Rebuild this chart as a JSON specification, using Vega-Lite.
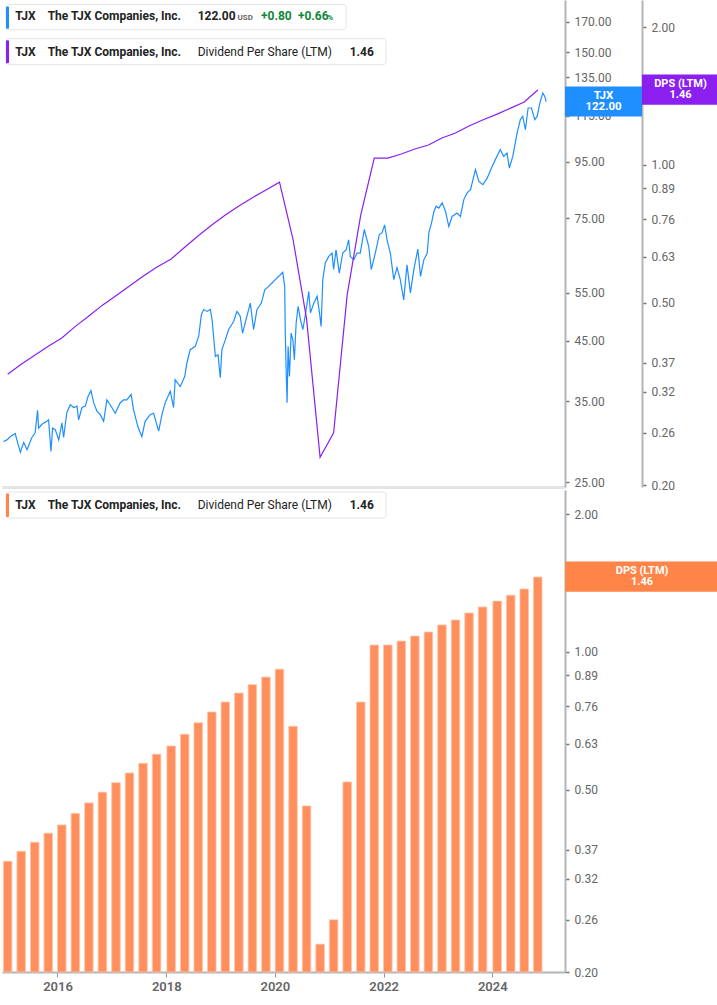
{
  "$schema": "https://vega.github.io/schema/vega-lite/v6.json",
  "padding": 0,
  "background": "#ffffff",
  "spacing": 3,
  "bounds": "flush",
  "config": {"view": {"stroke": null}, "font": "Roboto", "axis": {"labelFont": "Roboto", "zindex": 0}},
  "datasets": {
    "price": [
      {"date":"2015-01-02","close":29.6},{"date":"2015-01-26","close":29.8},{"date":"2015-02-17","close":30.2},{"date":"2015-03-23","close":30.6},{"date":"2015-04-03","close":29.8},{"date":"2015-04-26","close":28.3},{"date":"2015-05-19","close":29.5},{"date":"2015-06-10","close":28.6},{"date":"2015-07-13","close":30.1},{"date":"2015-08-04","close":30.7},{"date":"2015-08-20","close":33.7},{"date":"2015-08-27","close":31.3},{"date":"2015-09-18","close":31.8},{"date":"2015-10-22","close":32.2},{"date":"2015-11-02","close":32.4},{"date":"2015-11-18","close":28.4},{"date":"2015-11-29","close":31.3},{"date":"2015-12-17","close":31.1},
      {"date":"2016-01-09","close":29.8},{"date":"2016-01-31","close":32.0},{"date":"2016-02-11","close":30.1},{"date":"2016-03-04","close":33.4},{"date":"2016-03-27","close":34.5},{"date":"2016-04-19","close":34.1},{"date":"2016-05-11","close":34.3},{"date":"2016-05-22","close":32.4},{"date":"2016-06-13","close":34.1},{"date":"2016-07-06","close":34.3},{"date":"2016-07-24","close":35.7},{"date":"2016-08-13","close":36.6},{"date":"2016-08-31","close":34.8},{"date":"2016-09-22","close":33.6},{"date":"2016-10-14","close":33.1},{"date":"2016-11-06","close":32.2},{"date":"2016-11-28","close":35.2},{"date":"2016-12-20","close":34.5},
      {"date":"2017-01-23","close":33.3},{"date":"2017-02-26","close":34.8},{"date":"2017-03-20","close":35.2},{"date":"2017-04-11","close":35.2},{"date":"2017-05-10","close":36.0},{"date":"2017-05-26","close":33.8},{"date":"2017-06-24","close":31.5},{"date":"2017-07-21","close":30.2},{"date":"2017-08-12","close":32.2},{"date":"2017-09-15","close":33.1},{"date":"2017-10-08","close":33.3},{"date":"2017-11-11","close":30.9},{"date":"2017-12-03","close":33.1},{"date":"2017-12-25","close":34.8},
      {"date":"2018-01-28","close":36.5},{"date":"2018-02-19","close":34.1},{"date":"2018-03-02","close":38.3},{"date":"2018-04-05","close":37.2},{"date":"2018-05-05","close":38.8},{"date":"2018-05-20","close":41.1},{"date":"2018-06-11","close":43.4},{"date":"2018-07-15","close":44.0},{"date":"2018-08-07","close":45.9},{"date":"2018-08-25","close":50.2},{"date":"2018-09-10","close":51.3},{"date":"2018-10-02","close":50.9},{"date":"2018-10-24","close":51.3},{"date":"2018-11-05","close":49.2},{"date":"2018-11-27","close":42.2},{"date":"2018-12-15","close":42.5},{"date":"2018-12-30","close":38.6},
      {"date":"2019-01-10","close":43.4},{"date":"2019-02-02","close":45.2},{"date":"2019-02-24","close":47.2},{"date":"2019-03-30","close":48.8},{"date":"2019-04-21","close":50.9},{"date":"2019-05-13","close":49.9},{"date":"2019-05-29","close":46.5},{"date":"2019-06-21","close":49.2},{"date":"2019-07-20","close":52.7},{"date":"2019-08-11","close":47.2},{"date":"2019-09-03","close":51.3},{"date":"2019-10-02","close":52.7},{"date":"2019-10-25","close":55.7},{"date":"2019-11-20","close":56.5},{"date":"2019-12-13","close":57.3},
      {"date":"2020-01-04","close":58.1},{"date":"2020-02-07","close":59.3},{"date":"2020-02-23","close":59.9},{"date":"2020-03-07","close":56.5},{"date":"2020-03-11","close":46.5},{"date":"2020-03-18","close":38.8},{"date":"2020-03-23","close":34.8},{"date":"2020-03-30","close":44.0},{"date":"2020-04-08","close":38.8},{"date":"2020-04-19","close":46.5},{"date":"2020-05-01","close":45.2},{"date":"2020-05-11","close":41.6},{"date":"2020-05-23","close":48.5},{"date":"2020-06-05","close":52.0},{"date":"2020-06-21","close":49.2},{"date":"2020-07-07","close":47.2},{"date":"2020-07-24","close":50.2},{"date":"2020-08-16","close":55.3},{"date":"2020-08-27","close":50.6},{"date":"2020-09-19","close":52.7},{"date":"2020-10-11","close":54.2},{"date":"2020-10-27","close":50.6},{"date":"2020-11-07","close":47.8},{"date":"2020-11-18","close":58.1},{"date":"2020-12-05","close":62.3},{"date":"2020-12-28","close":64.0},
      {"date":"2021-01-19","close":64.9},{"date":"2021-01-30","close":60.6},{"date":"2021-02-15","close":65.8},{"date":"2021-03-09","close":59.7},{"date":"2021-04-01","close":64.9},{"date":"2021-04-24","close":65.8},{"date":"2021-05-11","close":68.6},{"date":"2021-05-22","close":64.0},{"date":"2021-06-14","close":63.1},{"date":"2021-07-06","close":64.9},{"date":"2021-07-28","close":64.9},{"date":"2021-08-24","close":71.6},{"date":"2021-09-23","close":66.7},{"date":"2021-10-10","close":60.6},{"date":"2021-11-06","close":64.9},{"date":"2021-12-03","close":70.1},{"date":"2021-12-21","close":70.6},
      {"date":"2022-01-08","close":73.0},{"date":"2022-01-24","close":68.6},{"date":"2022-02-15","close":64.9},{"date":"2022-03-10","close":58.1},{"date":"2022-04-01","close":61.1},{"date":"2022-04-23","close":58.1},{"date":"2022-05-16","close":53.4},{"date":"2022-06-07","close":61.8},{"date":"2022-06-30","close":55.0},{"date":"2022-07-23","close":60.6},{"date":"2022-08-19","close":66.0},{"date":"2022-09-06","close":58.9},{"date":"2022-09-28","close":63.1},{"date":"2022-10-21","close":64.9},{"date":"2022-11-01","close":70.6},{"date":"2022-11-19","close":73.6},{"date":"2022-12-05","close":77.2},{"date":"2022-12-20","close":78.9},
      {"date":"2023-01-07","close":78.3},{"date":"2023-01-29","close":80.0},{"date":"2023-02-21","close":77.2},{"date":"2023-03-15","close":72.5},{"date":"2023-04-06","close":75.6},{"date":"2023-05-10","close":76.7},{"date":"2023-06-01","close":75.6},{"date":"2023-06-24","close":81.1},{"date":"2023-07-16","close":83.4},{"date":"2023-08-08","close":84.5},{"date":"2023-09-10","close":91.9},{"date":"2023-10-03","close":87.5},{"date":"2023-10-30","close":86.3},{"date":"2023-11-28","close":88.7},{"date":"2023-12-31","close":93.1},
      {"date":"2024-01-22","close":95.8},{"date":"2024-02-24","close":99.9},{"date":"2024-03-18","close":97.1},{"date":"2024-04-09","close":98.5},{"date":"2024-04-25","close":92.5},{"date":"2024-05-18","close":97.1},{"date":"2024-06-16","close":107.0},{"date":"2024-07-08","close":113.2},{"date":"2024-07-24","close":114.7},{"date":"2024-08-11","close":108.5},{"date":"2024-08-29","close":118.8},{"date":"2024-09-21","close":118.8},{"date":"2024-10-13","close":113.2},{"date":"2024-10-29","close":114.7},{"date":"2024-11-16","close":121.3},{"date":"2024-12-06","close":126.5},{"date":"2024-12-19","close":124.7},{"date":"2024-12-28","close":122.0}
    ],
    "dps": [
      {"date":"2015-01-31","dps":0.349},{"date":"2015-05-02","dps":0.367},{"date":"2015-08-01","dps":0.384},{"date":"2015-10-31","dps":0.402},
      {"date":"2016-01-30","dps":0.419},{"date":"2016-04-30","dps":0.444},{"date":"2016-07-30","dps":0.468},{"date":"2016-10-29","dps":0.494},
      {"date":"2017-01-28","dps":0.518},{"date":"2017-04-29","dps":0.544},{"date":"2017-07-29","dps":0.571},{"date":"2017-10-28","dps":0.598},
      {"date":"2018-02-03","dps":0.623},{"date":"2018-05-05","dps":0.661},{"date":"2018-08-04","dps":0.700},{"date":"2018-11-03","dps":0.739},
      {"date":"2019-02-02","dps":0.777},{"date":"2019-05-04","dps":0.813},{"date":"2019-08-03","dps":0.848},{"date":"2019-11-02","dps":0.881},
      {"date":"2020-02-01","dps":0.917},{"date":"2020-05-02","dps":0.688},{"date":"2020-08-01","dps":0.461},{"date":"2020-10-31","dps":0.230},
      {"date":"2021-01-30","dps":0.260},{"date":"2021-05-01","dps":0.520},{"date":"2021-07-31","dps":0.777},{"date":"2021-10-30","dps":1.035},
      {"date":"2022-01-29","dps":1.035},{"date":"2022-04-30","dps":1.056},{"date":"2022-07-30","dps":1.083},{"date":"2022-10-29","dps":1.105},
      {"date":"2023-01-28","dps":1.145},{"date":"2023-04-29","dps":1.174},{"date":"2023-07-29","dps":1.216},{"date":"2023-10-28","dps":1.253},
      {"date":"2024-02-03","dps":1.291},{"date":"2024-05-04","dps":1.330},{"date":"2024-08-03","dps":1.372},{"date":"2024-11-02","dps":1.457}
    ]
  },
  "vconcat": [
    {
      "width": 563,
      "height": 487,
      "resolve": {"scale": {"y": "independent"}},
      "layer": [
        {
          "layer": [
            {
              "data": {"name": "price"},
              "mark": {"type": "line", "color": "#1F8FFF", "strokeWidth": 1.2},
              "encoding": {
                "x": {"field": "date", "type": "temporal",
                  "scale": {"type": "utc", "nice": false, "padding": 0, "domain": [{"year":2014,"month":12,"date":24,"utc":true},{"year":2025,"month":5,"date":4,"utc":true}]},
                  "axis": {"title": null, "labels": false, "ticks": false, "grid": false, "domainColor": "#e3e3e3", "domainWidth": 3, "zindex": 0}},
                "y": {"field": "close", "type": "quantitative",
                  "scale": {"type": "log", "nice": false, "domain": [24.49, 186.3]},
                  "axis": {"orient": "right", "zindex": 0, "title": null, "grid": false, "values": [25,35,45,55,75,95,115,135,150,170], "format": ".2f", "labelOverlap": false, "domainColor": "#b5b5b5", "domainWidth": 2, "tickColor": "#777777", "tickSize": 4, "tickWidth": 1.5, "labelColor": "#666666", "labelFontSize": 12, "labelPadding": 5}}
              }
            },
            {
              "data": {"values": [{}]},
              "mark": {"type": "rect", "fill": "#ffffff", "stroke": "#e4e4e4", "strokeWidth": 1, "cornerRadius": 3},
              "encoding": {
                "x": {"datum": {"year":2015,"month":1,"date":20,"utc":true}, "type": "temporal"},
                "x2": {"datum": {"year":2021,"month":4,"date":24,"utc":true}},
                "y": {"datum": 182.9, "type": "quantitative"},
                "y2": {"datum": 164.6}
              }
            },
            {
              "data": {"values": [{}]},
              "mark": {"type": "rect", "fill": "#1F8FFF", "cornerRadius": 1},
              "encoding": {
                "x": {"datum": {"year":2015,"month":1,"date":20,"utc":true}, "type": "temporal"},
                "x2": {"datum": {"year":2015,"month":2,"date":9,"utc":true}},
                "y": {"datum": 181.4, "type": "quantitative"},
                "y2": {"datum": 165.3}
              }
            },
            {
              "data": {"values": [{}]},
              "mark": {"type": "text", "text": "TJX", "align": "left", "baseline": "alphabetic", "fontSize": 12, "fontWeight": "bold", "color": "#222222"},
              "encoding": {"x": {"datum": {"year":2015,"month":3,"date":23,"utc":true}, "type": "temporal"}, "y": {"datum": 171.1, "type": "quantitative"}}
            },
            {
              "data": {"values": [{}]},
              "mark": {"type": "text", "text": "The TJX Companies, Inc.", "align": "left", "baseline": "alphabetic", "fontSize": 12, "fontWeight": "bold", "color": "#222222"},
              "encoding": {"x": {"datum": {"year":2015,"month":10,"date":27,"utc":true}, "type": "temporal"}, "y": {"datum": 171.1, "type": "quantitative"}}
            },
            {
              "data": {"values": [{}]},
              "mark": {"type": "text", "text": "122.00", "align": "left", "baseline": "alphabetic", "fontSize": 12, "fontWeight": "bold", "color": "#222222"},
              "encoding": {"x": {"datum": {"year":2018,"month":7,"date":31,"utc":true}, "type": "temporal"}, "y": {"datum": 171.1, "type": "quantitative"}}
            },
            {
              "data": {"values": [{}]},
              "mark": {"type": "text", "text": "USD", "align": "left", "baseline": "alphabetic", "fontSize": 8, "fontWeight": "bold", "color": "#666666"},
              "encoding": {"x": {"datum": {"year":2019,"month":4,"date":25,"utc":true}, "type": "temporal"}, "y": {"datum": 171.1, "type": "quantitative"}}
            },
            {
              "data": {"values": [{}]},
              "mark": {"type": "text", "text": "+0.80", "align": "left", "baseline": "alphabetic", "fontSize": 12, "fontWeight": "bold", "color": "#12873A"},
              "encoding": {"x": {"datum": {"year":2019,"month":9,"date":30,"utc":true}, "type": "temporal"}, "y": {"datum": 171.1, "type": "quantitative"}}
            },
            {
              "data": {"values": [{}]},
              "mark": {"type": "text", "text": "+0.66", "align": "left", "baseline": "alphabetic", "fontSize": 12, "fontWeight": "bold", "color": "#12873A"},
              "encoding": {"x": {"datum": {"year":2020,"month":6,"date":4,"utc":true}, "type": "temporal"}, "y": {"datum": 171.1, "type": "quantitative"}}
            },
            {
              "data": {"values": [{}]},
              "mark": {"type": "text", "text": "%", "align": "left", "baseline": "alphabetic", "fontSize": 8, "fontWeight": "bold", "color": "#12873A"},
              "encoding": {"x": {"datum": {"year":2020,"month":12,"date":18,"utc":true}, "type": "temporal"}, "y": {"datum": 171.1, "type": "quantitative"}}
            },
            {
              "data": {"values": [{}]},
              "mark": {"type": "rect", "fill": "#ffffff", "stroke": "#e4e4e4", "strokeWidth": 1, "cornerRadius": 3},
              "encoding": {
                "x": {"datum": {"year":2015,"month":1,"date":20,"utc":true}, "type": "temporal"},
                "x2": {"datum": {"year":2022,"month":1,"date":17,"utc":true}},
                "y": {"datum": 158.6, "type": "quantitative"},
                "y2": {"datum": 142.3}
              }
            },
            {
              "data": {"values": [{}]},
              "mark": {"type": "rect", "fill": "#8A1FF0", "cornerRadius": 1},
              "encoding": {
                "x": {"datum": {"year":2015,"month":1,"date":20,"utc":true}, "type": "temporal"},
                "x2": {"datum": {"year":2015,"month":2,"date":9,"utc":true}},
                "y": {"datum": 157.5, "type": "quantitative"},
                "y2": {"datum": 143.1}
              }
            },
            {
              "data": {"values": [{}]},
              "mark": {"type": "text", "text": "TJX", "align": "left", "baseline": "alphabetic", "fontSize": 12, "fontWeight": "bold", "color": "#222222"},
              "encoding": {"x": {"datum": {"year":2015,"month":3,"date":23,"utc":true}, "type": "temporal"}, "y": {"datum": 147.3, "type": "quantitative"}}
            },
            {
              "data": {"values": [{}]},
              "mark": {"type": "text", "text": "The TJX Companies, Inc.", "align": "left", "baseline": "alphabetic", "fontSize": 12, "fontWeight": "bold", "color": "#222222"},
              "encoding": {"x": {"datum": {"year":2015,"month":10,"date":27,"utc":true}, "type": "temporal"}, "y": {"datum": 147.3, "type": "quantitative"}}
            },
            {
              "data": {"values": [{}]},
              "mark": {"type": "text", "text": "Dividend Per Share (LTM)", "align": "left", "baseline": "alphabetic", "fontSize": 12, "fontWeight": "normal", "color": "#222222"},
              "encoding": {"x": {"datum": {"year":2018,"month":7,"date":31,"utc":true}, "type": "temporal"}, "y": {"datum": 147.3, "type": "quantitative"}}
            },
            {
              "data": {"values": [{}]},
              "mark": {"type": "text", "text": "1.46", "align": "left", "baseline": "alphabetic", "fontSize": 12, "fontWeight": "bold", "color": "#222222"},
              "encoding": {"x": {"datum": {"year":2021,"month":5,"date":18,"utc":true}, "type": "temporal"}, "y": {"datum": 147.3, "type": "quantitative"}}
            },
            {
              "data": {"values": [{"v": 122.0, "label": "TJX\n122.00"}]},
              "mark": {"type": "point", "shape": "M-1,-0.39H1V0.39H-1Z", "size": 5929, "filled": true, "opacity": 1, "color": "#1F8FFF", "strokeWidth": 0},
              "encoding": {"x": {"datum": {"year":2026,"month":1,"date":18,"utc":true}, "type": "temporal"}, "y": {"field": "v", "type": "quantitative"}}
            },
            {
              "data": {"values": [{"v": 122.0, "label": "TJX\n122.00"}]},
              "mark": {"type": "text", "lineBreak": "\n", "align": "center", "baseline": "middle", "dy": -5.7, "fontSize": 11.5, "lineHeight": 11.5, "fontWeight": "bold", "color": "#ffffff"},
              "encoding": {"x": {"datum": {"year":2026,"month":1,"date":18,"utc":true}, "type": "temporal"}, "y": {"field": "v", "type": "quantitative"}, "text": {"field": "label"}}
            }
          ]
        },
        {
          "layer": [
            {
              "data": {"name": "dps"},
              "mark": {"type": "line", "color": "#8A1FF0", "strokeWidth": 1.2},
              "encoding": {
                "x": {"field": "date", "type": "temporal"},
                "y": {"field": "dps", "type": "quantitative",
                  "scale": {"type": "log", "nice": false, "domain": [0.198, 2.291]},
                  "axis": {"orient": "right", "offset": 77, "zindex": 0, "title": null, "grid": false, "values": [0.2,0.26,0.32,0.37,0.5,0.63,0.76,0.89,1,2], "format": ".2f", "labelOverlap": false, "domainColor": "#b5b5b5", "domainWidth": 2, "tickColor": "#777777", "tickSize": 4, "tickWidth": 1.5, "labelColor": "#666666", "labelFontSize": 12, "labelPadding": 5}}
              }
            },
            {
              "data": {"values": [{"v": 1.46, "label": "DPS (LTM)\n1.46"}]},
              "mark": {"type": "point", "shape": "M-1,-0.39H1V0.39H-1Z", "size": 5929, "filled": true, "opacity": 1, "color": "#8A1FF0", "strokeWidth": 0},
              "encoding": {"x": {"datum": {"year":2027,"month":6,"date":19,"utc":true}, "type": "temporal"}, "y": {"field": "v", "type": "quantitative"}}
            },
            {
              "data": {"values": [{"v": 1.46, "label": "DPS (LTM)\n1.46"}]},
              "mark": {"type": "text", "lineBreak": "\n", "align": "center", "baseline": "middle", "dy": -5.5, "fontSize": 11, "lineHeight": 11, "fontWeight": "bold", "color": "#ffffff"},
              "encoding": {"x": {"datum": {"year":2027,"month":6,"date":19,"utc":true}, "type": "temporal"}, "y": {"field": "v", "type": "quantitative"}, "text": {"field": "label"}}
            }
          ]
        }
      ]
    },
    {
      "width": 563,
      "height": 482,
      "layer": [
        {
          "data": {"name": "dps"},
          "mark": {"type": "bar", "size": 8.5, "color": "#FF8F5C", "stroke": "#FFC4A8", "strokeWidth": 0.8},
          "encoding": {
            "x": {"field": "date", "type": "temporal",
              "scale": {"type": "utc", "nice": false, "padding": 0, "domain": [{"year":2014,"month":12,"date":24,"utc":true},{"year":2025,"month":5,"date":4,"utc":true}]},
              "axis": {"title": null, "zindex": 0, "grid": false, "values": [{"year":2016,"month":1,"date":1,"utc":true},{"year":2018,"month":1,"date":1,"utc":true},{"year":2020,"month":1,"date":1,"utc":true},{"year":2022,"month":1,"date":1,"utc":true},{"year":2024,"month":1,"date":1,"utc":true}], "format": "%Y", "labelOverlap": false, "labelFlush": false, "domainColor": "#b5b5b5", "domainWidth": 2, "tickColor": "#999999", "tickSize": 5, "labelColor": "#666666", "labelFontSize": 13, "labelFontWeight": 600, "labelPadding": 3}},
            "y": {"field": "dps", "type": "quantitative",
              "scale": {"type": "log", "nice": false, "domain": [0.2, 2.257]},
              "axis": {"orient": "right", "zindex": 0, "title": null, "grid": false, "values": [0.2,0.26,0.32,0.37,0.5,0.63,0.76,0.89,1,2], "format": ".2f", "labelOverlap": false, "domainColor": "#b5b5b5", "domainWidth": 2, "tickColor": "#777777", "tickSize": 4, "tickWidth": 1.5, "labelColor": "#666666", "labelFontSize": 12, "labelPadding": 5}},
            "y2": {"datum": 0.2}
          }
        },
        {
          "data": {"values": [{}]},
          "mark": {"type": "rect", "fill": "#ffffff", "stroke": "#e4e4e4", "strokeWidth": 1, "cornerRadius": 3},
          "encoding": {
            "x": {"datum": {"year":2015,"month":1,"date":20,"utc":true}, "type": "temporal"},
            "x2": {"datum": {"year":2022,"month":1,"date":17,"utc":true}},
            "y": {"datum": 2.234, "type": "quantitative"},
            "y2": {"datum": 1.960}
          }
        },
        {
          "data": {"values": [{}]},
          "mark": {"type": "rect", "fill": "#FF8448", "cornerRadius": 1},
          "encoding": {
            "x": {"datum": {"year":2015,"month":1,"date":20,"utc":true}, "type": "temporal"},
            "x2": {"datum": {"year":2015,"month":2,"date":9,"utc":true}},
            "y": {"datum": 2.217, "type": "quantitative"},
            "y2": {"datum": 1.970}
          }
        },
        {
          "data": {"values": [{}]},
          "mark": {"type": "text", "text": "TJX", "align": "left", "baseline": "alphabetic", "fontSize": 12, "fontWeight": "bold", "color": "#222222"},
          "encoding": {"x": {"datum": {"year":2015,"month":3,"date":23,"utc":true}, "type": "temporal"}, "y": {"datum": 2.056, "type": "quantitative"}}
        },
        {
          "data": {"values": [{}]},
          "mark": {"type": "text", "text": "The TJX Companies, Inc.", "align": "left", "baseline": "alphabetic", "fontSize": 12, "fontWeight": "bold", "color": "#222222"},
          "encoding": {"x": {"datum": {"year":2015,"month":10,"date":27,"utc":true}, "type": "temporal"}, "y": {"datum": 2.056, "type": "quantitative"}}
        },
        {
          "data": {"values": [{}]},
          "mark": {"type": "text", "text": "Dividend Per Share (LTM)", "align": "left", "baseline": "alphabetic", "fontSize": 12, "fontWeight": "normal", "color": "#222222"},
          "encoding": {"x": {"datum": {"year":2018,"month":7,"date":31,"utc":true}, "type": "temporal"}, "y": {"datum": 2.056, "type": "quantitative"}}
        },
        {
          "data": {"values": [{}]},
          "mark": {"type": "text", "text": "1.46", "align": "left", "baseline": "alphabetic", "fontSize": 12, "fontWeight": "bold", "color": "#222222"},
          "encoding": {"x": {"datum": {"year":2021,"month":5,"date":18,"utc":true}, "type": "temporal"}, "y": {"datum": 2.056, "type": "quantitative"}}
        },
        {
          "data": {"values": [{"v": 1.46, "label": "DPS (LTM)\n1.46"}]},
          "mark": {"type": "point", "shape": "M-1,-0.197H1V0.197H-1Z", "size": 23716, "filled": true, "opacity": 1, "color": "#FF8448", "strokeWidth": 0},
          "encoding": {"x": {"datum": {"year":2026,"month":10,"date":4,"utc":true}, "type": "temporal"}, "y": {"field": "v", "type": "quantitative"}}
        },
        {
          "data": {"values": [{"v": 1.46, "label": "DPS (LTM)\n1.46"}]},
          "mark": {"type": "text", "lineBreak": "\n", "align": "center", "baseline": "middle", "dy": -5.5, "fontSize": 11, "lineHeight": 11, "fontWeight": "bold", "color": "#ffffff"},
          "encoding": {"x": {"datum": {"year":2026,"month":10,"date":4,"utc":true}, "type": "temporal"}, "y": {"field": "v", "type": "quantitative"}, "text": {"field": "label"}}
        }
      ]
    }
  ]
}
